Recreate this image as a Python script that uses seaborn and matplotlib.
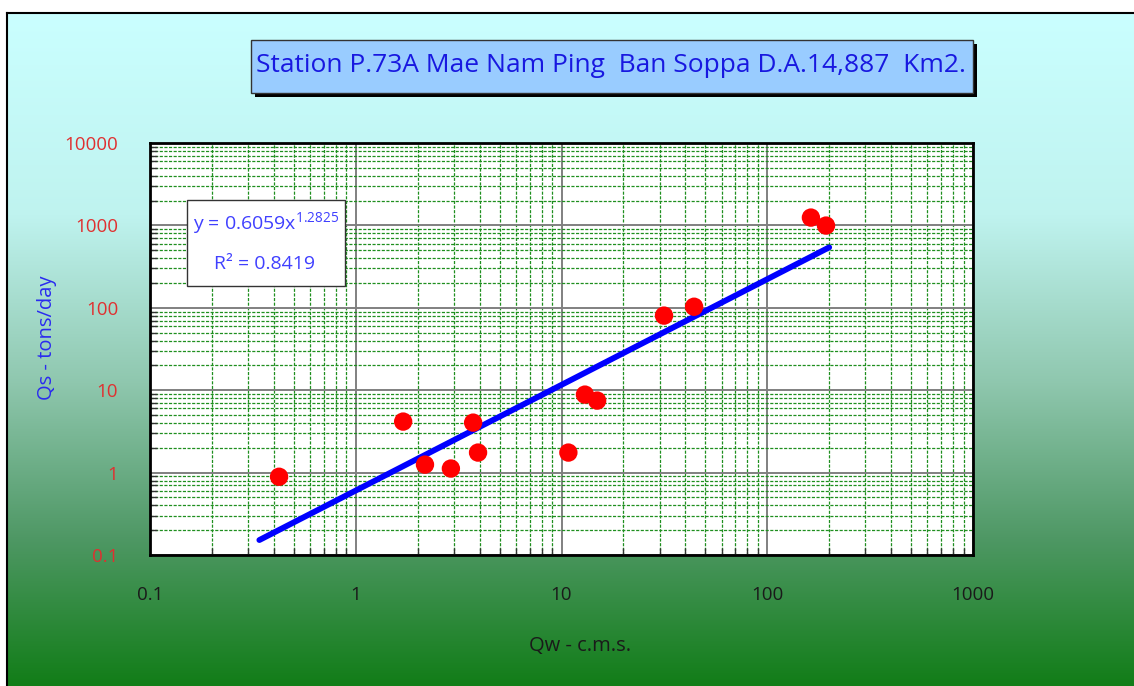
import numpy as np
import pandas as pd
import seaborn as sns
import matplotlib.pyplot as plt
from matplotlib.patches import Rectangle
from matplotlib.ticker import FixedLocator, FixedFormatter, LogLocator, NullFormatter
from matplotlib.colors import LinearSegmentedColormap

# discharge (c.m.s.) and sediment load (tons/day)
qw = [0.424, 1.70, 2.17, 2.90, 3.72, 3.93, 10.8, 13.0, 14.9, 31.5, 44.1, 163, 193]
qs = [0.89, 4.16, 1.25, 1.12, 4.04, 1.75, 1.75, 8.84, 7.48, 80.4, 103, 1244, 995]

# power trendline as printed on the chart
coef_a = 0.6059
coef_b = 1.2825
r_squared = 0.8419
trend_x_start, trend_x_end = 0.34, 200

x_ticks = [0.1, 1, 10, 100, 1000]
x_tick_labels = ["0.1", "1", "10", "100", "1000"]
y_ticks = [0.1, 1, 10, 100, 1000, 10000]
y_tick_labels = ["0.1", "1", "10", "100", "1000", "10000"]

title = "Station P.73A Mae Nam Ping  Ban Soppa D.A.14,887  Km2."

sns.set_style("white")
plt.rcParams['font.family'] = ['Open Sans', 'DejaVu Sans']
plt.rcParams['mathtext.fontset'] = 'custom'
plt.rcParams['mathtext.rm'] = 'Open Sans'

W, H = 1134, 686
fig = plt.figure(figsize=(W / 100, H / 100), dpi=100)
fig.patch.set_facecolor("white")


def fx(px):
    return px / W


def fy(py):
    return (H - py) / H


# gradient background inside the outer frame
bg = fig.add_axes([fx(7), 0, 1 - fx(7), fy(13)], zorder=-5)
grad_cmap = LinearSegmentedColormap.from_list(
    "bg", [(0.0, "#caffff"), (0.3, "#bff3ef"), (0.55, "#8fc7ae"),
           (0.78, "#4f9865"), (1.0, "#127d18")])
bg.imshow(np.linspace(0, 1, 256).reshape(-1, 1), aspect="auto", cmap=grad_cmap,
          extent=[0, 1, 0, 1], origin="upper")
bg.set_xticks([])
bg.set_yticks([])
for side in ["right", "bottom"]:
    bg.spines[side].set_visible(False)
for side in ["left", "top"]:
    bg.spines[side].set_color("black")
    bg.spines[side].set_linewidth(1.5)

ax = fig.add_axes([fx(150), fy(555), fx(973) - fx(150), fy(143) - fy(555)])
ax.set_facecolor("white")
ax.set_xscale("log")
ax.set_yscale("log")

df = pd.DataFrame({"Qw": qw, "Qs": qs})
sns.scatterplot(data=df, x="Qw", y="Qs", ax=ax, color="#ff0000", s=175,
                edgecolor="none", zorder=4)

trend = pd.DataFrame({"Qw": np.geomspace(trend_x_start, trend_x_end, 50)})
trend["Qs"] = coef_a * trend["Qw"] ** coef_b
sns.lineplot(data=trend, x="Qw", y="Qs", ax=ax, color="#0000ff", lw=4.2,
             solid_capstyle="round", zorder=3)

ax.set_xlim(0.1, 1000)
ax.set_ylim(0.1, 10000)
ax.xaxis.set_major_locator(FixedLocator(x_ticks))
ax.xaxis.set_major_formatter(FixedFormatter(x_tick_labels))
ax.yaxis.set_major_locator(FixedLocator(y_ticks))
ax.yaxis.set_major_formatter(FixedFormatter(y_tick_labels))
for axis in [ax.xaxis, ax.yaxis]:
    axis.set_minor_locator(LogLocator(base=10, subs=np.arange(2, 10), numticks=20))
    axis.set_minor_formatter(NullFormatter())

ax.grid(which="major", color="#808080", lw=1.4, ls="-", zorder=1)
ax.grid(which="minor", color="#1f8f1f", lw=0.9, ls=(0, (2.5, 1.2)), zorder=1)
ax.set_axisbelow(True)

ax.tick_params(axis="y", which="major", direction="out", length=8, width=1.2,
               color="#555555", labelsize=13.5, labelcolor="#e03030", pad=15)
ax.tick_params(axis="x", which="major", length=0, labelsize=13.5,
               labelcolor="#1a1a1a", pad=22)
ax.tick_params(which="minor", direction="in", length=5, width=1.0, color="#333333")
ax.tick_params(axis="x", which="minor", bottom=True)
ax.tick_params(axis="y", which="minor", left=True)

for side in ax.spines:
    ax.spines[side].set_visible(True)
    ax.spines[side].set_color("black")
    ax.spines[side].set_linewidth(2)

ax.set_xlabel("")
ax.set_ylabel("")
fig.text(fx(580), fy(646), "Qw - c.m.s.", ha="center", va="center",
         fontsize=14.5, color="#1a1a1a")
fig.text(fx(47), fy(338), "Qs - tons/day", ha="center", va="center",
         rotation=90, fontsize=14.5, color="#2a2af0")

# title box with drop shadow
fig.patches.append(Rectangle((fx(255), fy(97)), fx(722), 53 / H, transform=fig.transFigure,
                             facecolor="black", edgecolor="none", zorder=1))
fig.patches.append(Rectangle((fx(251), fy(93)), fx(722), 53 / H, transform=fig.transFigure,
                             facecolor="#99ccff", edgecolor="#333333", lw=1.0, zorder=2))
fig.text(fx(611), fy(65), title, ha="center", va="center", fontsize=19,
         color="#1818e0", zorder=3)

# trendline equation box
fig.patches.append(Rectangle((fx(187), fy(286)), fx(158), 86 / H, transform=fig.transFigure,
                             facecolor="white", edgecolor="#333333", lw=1.0, zorder=5))
fig.text(fx(266), fy(224), f"y = {coef_a}x$^{{{coef_b}}}$", ha="center", va="center",
         fontsize=14, color="#4040ff", zorder=6)
fig.text(fx(264), fy(264), f"R² = {r_squared}", ha="center", va="center",
         fontsize=14, color="#4040ff", zorder=6)

fig.savefig("out.png", dpi=100)
